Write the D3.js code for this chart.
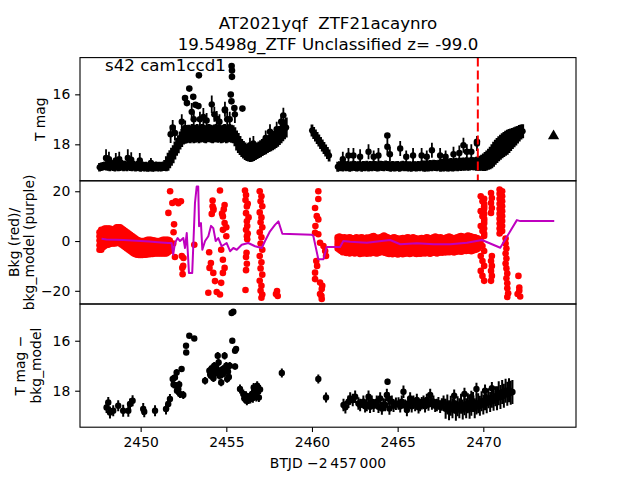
<!DOCTYPE html>
<html><head><meta charset="utf-8">
<script src="https://cdn.jsdelivr.net/npm/d3@7"></script>
<style>body{margin:0;background:#fff}</style>
</head><body>
<svg id="c" width="640" height="480" xmlns="http://www.w3.org/2000/svg"></svg>
<script>
// ---------------- DATA ----------------
const titleLines = ["AT2021yqf  ZTF21acaynro", "19.5498g_ZTF Unclassified z= -99.0"];
const sectorLabel = "s42 cam1ccd1";
const xLabel = "BTJD \u22122\u2009457\u2009000";
const xTicks = [2450, 2455, 2460, 2465, 2470];
const y1Ticks = [16, 18];
const y2Ticks = [20, 0, -20];
const y3Ticks = [16, 18];
const y1Label = ["T mag"];
const y2Label = ["Bkg (red)/", "bkg_model (purple)"];
const y3Label = ["T mag \u2212", "bkg_model"];

// TESS light curve (panel 1), time / mag / error
const bandT = [2447.6,2447.7,2447.8,2447.9,
2448.0,2448.1,2448.2,2448.3,2448.4,2448.5,2448.6,2448.7,2448.8,2448.9,
2449.0,2449.1,2449.2,2449.3,2449.4,2449.5,2449.6,2449.7,2449.8,2449.9,
2450.0,2450.1,2450.2,2450.3,2450.4,2450.5,2450.6,2450.7,2450.8,2450.9,
2451.0,2451.1,2451.2,2451.3,2451.4,2451.5,2451.6,2451.7,2451.8,2451.9,
2452.0,2452.1,2452.2,2452.3,2452.4,2452.5,2452.6,2452.7,2452.8,2452.9,
2453.0,2453.1,2453.2,2453.3,2453.4,2453.5,2453.6,2453.7,2453.8,2453.9,
2454.0,2454.1,2454.2,2454.3,2454.4,2454.5,2454.6,2454.7,2454.8,2454.9,
2455.0,2455.1,2455.2,2455.3,2455.4,2455.5,2455.6,2455.7,2455.8,2455.9,
2456.0,2456.1,2456.2,2456.3,2456.4,2456.5,2456.6,2456.7,2456.8,2456.9,
2457.0,2457.1,2457.2,2457.3,2457.4,2457.5,2457.6,2457.7,2457.8,2457.9,
2458.0,2458.1,2458.2,2458.3,2458.4,2458.5,
2460.0,2460.1,2460.2,2460.3,2460.4,2460.5,2460.6,2460.7,2460.8,2460.9,2461.0,
2461.5,2461.6,2461.7,2461.8,2461.9,
2462.0,2462.1,2462.2,2462.3,2462.4,2462.5,2462.6,2462.7,2462.8,2462.9,
2463.0,2463.1,2463.2,2463.3,2463.4,2463.5,2463.6,2463.7,2463.8,2463.9,
2464.0,2464.1,2464.2,2464.3,2464.4,2464.5,2464.6,2464.7,2464.8,2464.9,
2465.0,2465.1,2465.2,2465.3,2465.4,2465.5,2465.6,2465.7,2465.8,2465.9,
2466.0,2466.1,2466.2,2466.3,2466.4,2466.5,2466.6,2466.7,2466.8,2466.9,
2467.0,2467.1,2467.2,2467.3,2467.4,2467.5,2467.6,2467.7,2467.8,2467.9,
2468.0,2468.1,2468.2,2468.3,2468.4,2468.5,2468.6,2468.7,2468.8,2468.9,
2469.0,2469.1,2469.2,2469.3,2469.4,2469.5,2469.6,2469.7,2469.8,2469.9,
2470.0,2470.1,2470.2,2470.3,2470.4,2470.5,2470.6,2470.7,2470.8,2470.9,
2471.0,2471.1,2471.2,2471.3,2471.4,2471.5,2471.6,2471.7,2471.8,2471.9,
2472.0,2472.1,2472.2,2472.3];
const bandM = [18.92,18.9,18.88,18.86,
18.88,18.85,18.87,18.84,18.86,18.88,18.85,18.87,18.86,18.84,
18.87,18.86,18.88,18.85,18.87,18.88,18.86,18.89,18.87,18.88,
18.9,18.88,18.9,18.89,18.91,18.9,18.89,18.91,18.9,18.88,
18.9,18.89,18.9,18.88,18.85,18.78,18.7,18.6,18.5,18.4,
18.25,18.1,18.0,17.85,17.75,17.65,17.62,17.6,17.58,17.6,
17.55,17.6,17.58,17.55,17.6,17.57,17.55,17.58,17.6,17.56,
17.55,17.58,17.6,17.57,17.55,17.58,17.56,17.6,17.58,17.55,
17.6,17.57,17.55,17.58,17.6,17.7,17.85,17.95,18.05,18.15,
18.22,18.28,18.33,18.36,18.38,18.37,18.34,18.3,18.26,18.22,
18.18,18.13,18.09,18.05,18.0,17.96,17.92,17.88,17.83,17.78,
17.72,17.65,17.57,17.48,17.4,17.33,
17.45,17.55,17.65,17.75,17.85,17.95,18.05,18.15,18.25,18.35,18.45,
18.9,18.88,18.87,18.89,18.86,
18.88,18.87,18.9,18.88,18.86,18.87,18.89,18.88,18.86,18.9,
18.87,18.88,18.86,18.89,18.87,18.88,18.86,18.87,18.89,18.88,
18.86,18.87,18.88,18.85,18.87,18.88,18.9,18.87,18.89,18.88,
18.87,18.9,18.88,18.86,18.88,18.87,18.89,18.88,18.9,18.87,
18.88,18.89,18.87,18.88,18.86,18.87,18.88,18.86,18.87,18.85,
18.86,18.84,18.85,18.86,18.84,18.85,18.83,18.84,18.82,18.84,
18.83,18.81,18.83,18.82,18.8,18.82,18.8,18.81,18.79,18.8,
18.78,18.8,18.79,18.77,18.78,18.78,18.78,18.77,18.76,18.74,
18.72,18.69,18.65,18.6,18.55,18.48,18.4,18.32,18.25,18.18,
18.12,18.06,18.01,17.96,17.92,17.87,17.82,17.77,17.72,17.67,
17.62,17.56,17.51,17.48];
const bandE = [.17,.17,.17,.17,
.17,.21,.21,.21,.21,.21,.21,.21,.21,.21,
.21,.2,.2,.2,.2,.2,.2,.2,.2,.2,
.2,.19,.19,.19,.19,.19,.19,.19,.19,.19,
.19,.19,.19,.19,.22,.3,.36,.36,.36,.36,
.36,.36,.36,.36,.36,.36,.36,.36,.36,.36,
.36,.36,.36,.36,.36,.36,.36,.36,.36,.36,
.36,.36,.36,.36,.36,.36,.36,.36,.36,.36,
.36,.36,.36,.36,.36,.38,.4,.4,.38,.36,
.35,.35,.34,.33,.33,.33,.33,.33,.33,.33,
.34,.34,.34,.35,.35,.35,.36,.36,.37,.37,
.38,.38,.39,.4,.4,.4,
.24,.24,.24,.24,.24,.24,.24,.24,.24,.24,.24,
.2,.2,.2,.2,.2,
.2,.2,.2,.2,.2,.2,.2,.2,.2,.2,
.2,.2,.2,.2,.2,.2,.2,.2,.2,.2,
.2,.2,.2,.2,.2,.2,.2,.2,.2,.2,
.2,.2,.2,.2,.2,.2,.2,.2,.2,.2,
.2,.2,.2,.2,.2,.22,.22,.22,.22,.22,
.22,.22,.22,.22,.22,.25,.25,.25,.25,.25,
.26,.26,.26,.26,.26,.26,.26,.26,.26,.26,
.26,.26,.26,.26,.26,.26,.28,.3,.3,.32,
.35,.38,.4,.42,.45,.48,.5,.5,.5,.5,
.5,.5,.5,.5,.5,.48,.45,.42,.4,.38,
.35,.33,.3,.28];

// brighter individual points with error bars (panel 1): [time, mag, err]
const spikes = [
[2447.98,18.55,.35],[2448.15,18.6,.3],[2448.55,18.65,.3],[2448.75,18.6,.3],[2449.25,18.55,.35],[2449.45,18.62,.3],[2449.95,18.65,.3],[2450.6,18.75,.2],
[2451.75,17.6,.35],[2451.87,17.33,.3],[2452.0,17.55,.3],[2452.4,17.1,.3],[2452.6,17.35,.3],[2452.98,16.7,.35],[2453.1,17.0,.3],[2453.46,17.0,.3],
[2453.66,16.9,.35],[2453.85,17.05,.3],[2454.15,16.4,.35],[2454.3,16.8,.3],[2454.44,16.97,.3],[2454.6,17.1,.3],[2454.92,16.6,.3],[2455.05,17.0,.3],
[2455.2,17.0,.3],[2455.5,16.8,.35],
[2456.38,18.04,.3],[2456.58,17.97,.3],[2457.3,17.75,.3],[2457.55,17.5,.3],[2457.94,17.4,.3],[2458.2,17.1,.3],[2458.33,16.84,.3],
[2461.8,18.6,.3],[2462.13,18.45,.3],[2462.42,18.45,.3],[2462.81,18.5,.3],[2463.3,18.3,.3],[2463.6,18.5,.25],[2463.88,18.45,.3],[2464.4,18.1,.35],
[2464.55,18.4,.3],[2465.15,18.17,.3],[2465.5,18.5,.25],[2465.9,18.45,.3],[2466.4,18.45,.3],[2466.7,18.5,.25],[2467.0,18.24,.3],[2467.48,18.45,.3],
[2467.8,18.5,.25],[2468.26,18.4,.3],[2468.6,18.35,.3],[2468.84,18.04,.3],[2469.04,18.3,.3],[2469.3,18.3,.3],[2469.63,17.97,.3]];

// isolated bright outliers (panel 1): [time, mag]
const outliers = [[2452.59,16.15],[2452.7,16.35],[2452.84,15.77],[2453.07,16.1],[2453.2,16.42],[2453.37,16.47],[2453.4,15.24],
[2455.31,14.87],[2455.33,15.05],[2455.33,15.3],[2455.26,16.01],[2455.3,16.28],[2455.47,16.55],[2455.94,16.57],[2454.92,16.64],
[2464.4,17.65],[2469.63,17.9]];

const ztfPoint = [[2474.1, 17.67]];   // triangle marker
const discoveryT = [2469.68];        // red dashed line

// Background (panel 2): time, five samples per time across the scatter cloud
const bkgT = [2447.6,2447.7,2447.8,2447.9,
2448.0,2448.1,2448.2,2448.3,2448.4,2448.5,2448.6,2448.7,2448.8,2448.9,
2449.0,2449.1,2449.2,2449.3,2449.4,2449.5,2449.6,2449.7,2449.8,2449.9,
2450.0,2450.1,2450.2,2450.3,2450.4,2450.5,2450.6,2450.7,2450.8,2450.9,
2451.0,2451.1,2451.2,2451.3,2451.4,2451.5,2451.6,2451.7,
2461.5,2461.6,2461.7,2461.8,2461.9,2462.0,2462.1,2462.2,2462.3,2462.4,
2462.5,2462.6,2462.7,2462.8,2462.9,2463.0,2463.1,2463.2,2463.3,2463.4,
2463.5,2463.6,2463.7,2463.8,2463.9,2464.0,2464.1,2464.2,2464.3,2464.4,
2464.5,2464.6,2464.7,2464.8,2464.9,2465.0,2465.1,2465.2,2465.3,2465.4,
2465.5,2465.6,2465.7,2465.8,2465.9,2466.0,2466.1,2466.2,2466.3,2466.4,
2466.5,2466.6,2466.7,2466.8,2466.9,2467.0,2467.1,2467.2,2467.3,2467.4,
2467.5,2467.6,2467.7,2467.8,2467.9,2468.0,2468.1,2468.2,2468.3,2468.4,
2468.5,2468.6,2468.7,2468.8,2468.9,2469.0,2469.1,2469.2,2469.3,2469.4,
2469.5,2469.6,2469.7];
const bkgHi = [3.5,4.5,4.5,5,
5,5,5,4.5,4.5,5,5.5,5.5,5.5,5,
4.5,4,3.5,3,2.5,2,1.5,1,0.5,0.2,
0,0,0,0.2,0.5,0.5,0.5,0.3,0.2,0,
0,0,0.2,0.5,0.5,0.5,0.5,0.2,
1.5,1.8,1.5,1.2,1.5,1.0,1.3,1.5,1.2,1.0,
1.2,1.5,1.0,1.3,1.5,1.2,1.0,1.4,1.2,1.5,
1.8,2.0,1.5,1.3,1.2,1.5,1.8,2.2,1.8,1.5,
1.2,1.0,1.3,1.5,1.2,1.0,0.8,1.0,1.2,1.0,
1.3,1.5,1.2,1.0,1.5,1.2,1.0,0.8,1.0,1.2,
1.0,1.2,1.5,1.3,1.0,1.2,1.5,1.8,1.5,1.2,
1.5,1.2,1.0,1.3,1.5,1.8,1.5,1.2,1.0,1.3,
1.5,1.8,2.0,1.8,1.5,1.8,2.2,2.0,1.8,1.5,
1.5,1.2,1.0];
const bkgUp = [1.9,2.4,3.0,3.1,
3.5,3.2,3.6,3.0,3.3,3.6,3.9,3.8,3.9,3.3,
2.9,2.3,1.9,1.4,0.8,0.4,-0.2,-0.6,-0.9,-1.3,
-1.2,-1.5,-1.3,-1.2,-0.9,-1.0,-0.9,-1.2,-1.0,-1.3,
-1.2,-1.3,-1.0,-0.8,-1.0,-0.9,-0.7,-0.8,
0.5,0.3,0.2,-0.1,0.0,-0.5,-0.1,-0.2,-0.2,-0.5,
-0.3,0.1,-0.5,-0.4,-0.1,-0.3,-0.5,-0.2,-0.3,-0.1,
0.2,0.4,-0.1,-0.3,-0.3,0.0,0.3,0.5,0.1,-0.2,
-0.4,-0.5,-0.4,-0.1,-0.4,-0.6,-0.7,-0.5,-0.4,-0.6,
-0.2,-0.1,-0.4,-0.5,-0.1,-0.4,-0.6,-0.6,-0.5,-0.3,
-0.5,-0.3,-0.1,-0.2,-0.5,-0.3,0.0,0.2,-0.1,-0.3,
0.0,-0.2,-0.4,-0.2,0.1,0.2,0.1,-0.2,-0.4,-0.1,
0.1,0.3,0.5,0.4,0.2,0.4,0.7,0.5,0.3,0.2,
0.2,0.0,0.0];
const bkgMid = [0.2,0.6,1.2,1.4,
1.8,1.6,1.9,1.6,1.9,2.0,2.4,2.2,2.2,1.7,
1.2,0.8,0.3,-0.3,-0.8,-1.2,-1.8,-2.2,-2.4,-2.8,
-2.6,-2.9,-2.6,-2.7,-2.3,-2.5,-2.3,-2.6,-2.3,-2.6,
-2.4,-2.6,-2.3,-2.2,-2.4,-2.3,-2.0,-1.9,
-0.8,-0.9,-1.2,-1.6,-1.4,-1.9,-1.6,-1.8,-1.7,-1.9,
-1.9,-1.5,-1.9,-2.0,-1.7,-1.9,-1.8,-1.8,-1.8,-1.7,
-1.5,-1.2,-1.7,-1.9,-1.8,-1.5,-1.2,-1.2,-1.5,-1.8,
-2.0,-2.0,-2.0,-1.7,-2.0,-2.2,-2.2,-2.0,-2.1,-2.1,
-1.8,-1.6,-2.0,-2.0,-1.6,-1.9,-2.1,-2.0,-2.0,-1.9,
-1.9,-1.9,-1.6,-1.8,-2.0,-1.8,-1.5,-1.5,-1.7,-1.7,
-1.5,-1.7,-1.7,-1.6,-1.4,-1.3,-1.3,-1.6,-1.8,-1.5,
-1.3,-1.1,-1.1,-1.1,-1.1,-1.1,-0.7,-0.9,-1.1,-1.1,
-1.0,-1.1,-1.0];
const bkgDn = [-1.7,-1.4,-0.7,-0.3,
0.2,0.0,0.4,0.3,0.5,0.5,0.8,0.7,0.6,0.1,
-0.4,-0.9,-1.4,-1.9,-2.4,-2.9,-3.4,-3.8,-4.0,-4.2,
-4.1,-4.3,-4.0,-4.1,-3.8,-3.9,-3.7,-3.9,-3.6,-3.8,
-3.7,-3.8,-3.6,-3.6,-3.7,-3.6,-3.2,-3.0,
-1.9,-2.2,-2.6,-3.1,-2.8,-3.4,-3.0,-3.4,-3.2,-3.4,
-3.5,-3.1,-3.4,-3.6,-3.3,-3.5,-3.2,-3.5,-3.3,-3.4,
-3.2,-2.9,-3.3,-3.5,-3.3,-3.0,-2.8,-2.9,-3.2,-3.4,
-3.6,-3.5,-3.7,-3.3,-3.6,-3.8,-3.7,-3.5,-3.7,-3.6,
-3.4,-3.2,-3.6,-3.5,-3.2,-3.5,-3.7,-3.5,-3.6,-3.5,
-3.4,-3.5,-3.2,-3.4,-3.6,-3.3,-3.1,-3.2,-3.4,-3.2,
-3.0,-3.2,-3.1,-3.1,-2.9,-2.9,-2.8,-3.0,-3.2,-2.9,
-2.8,-2.6,-2.7,-2.6,-2.5,-2.6,-2.2,-2.4,-2.6,-2.5,
-2.3,-2.3,-2.0];
const bkgLo = [-3.5,-3.5,-2.5,-2,
-1.5,-1.5,-1.2,-1,-1,-1,-0.8,-0.8,-1,-1.5,
-2,-2.5,-3,-3.5,-4,-4.5,-5,-5.3,-5.5,-5.6,
-5.6,-5.6,-5.5,-5.5,-5.3,-5.3,-5.2,-5.2,-5,-5,
-5,-5,-5,-5,-5,-5,-4.5,-4,
-3.0,-3.5,-4.0,-4.5,-4.2,-4.8,-4.5,-5.0,-4.6,-4.8,
-5.0,-4.6,-4.8,-5.2,-4.9,-5.0,-4.6,-5.1,-4.8,-5.0,
-4.8,-4.5,-4.9,-5.0,-4.7,-4.5,-4.3,-4.6,-4.8,-5.0,
-5.2,-5.0,-5.3,-4.9,-5.1,-5.4,-5.2,-5.0,-5.3,-5.1,
-5.0,-4.8,-5.2,-5.0,-4.7,-5.0,-5.2,-4.9,-5.1,-5.0,
-4.8,-5.0,-4.7,-4.9,-5.1,-4.8,-4.6,-4.8,-5.0,-4.7,
-4.5,-4.7,-4.4,-4.6,-4.3,-4.5,-4.2,-4.4,-4.6,-4.3,
-4.2,-4.0,-4.3,-4.1,-3.8,-4.0,-3.7,-3.9,-4.1,-3.8,
-3.6,-3.4,-3.0];
// scattered background points in the noisy stretches: [time, value]
const bkgScatter = [
[2451.62,11.3],[2451.72,20.0],[2451.85,15.3],[2451.95,6.7],[2451.92,3.5],[2451.9,-1.0],[2452.0,-6.4],[2452.05,16.0],[2452.2,15.2],[2452.35,16.0],
[2452.4,-6.0],[2452.43,-10.8],[2452.45,-13.3],[2452.48,-10.0],[2452.5,-6.8],[2453.13,-1.5],
[2453.95,-20.8],[2454.0,-4.5],[2454.1,-8.8],[2454.02,-10.8],[2454.2,16.3],[2454.24,13.2],[2454.15,10.9],[2454.24,-12.8],[2454.34,-16.1],[2454.44,-20.5],
[2454.63,-21.5],[2454.2,14.0],[2454.25,12.5],
[2454.63,20.3],[2454.8,9.9],[2454.9,7.2],[2454.8,4.5],[2455.0,1.9],[2454.7,-3.5],[2454.8,-7.5],[2454.9,-10.8],[2454.8,-12.8],[2454.7,-16.8],
[2454.85,12.7],[2454.75,11.0],[2454.9,14.5],[2455.0,5.5],
[2456.09,20.3],[2456.15,18.5],[2456.12,16.5],[2456.2,13.9],[2456.15,11.2],[2456.2,7.9],[2456.15,4.5],[2456.2,1.9],[2456.15,-6.4],[2456.2,-9.1],
[2456.15,-11.7],[2456.12,-19.7],[2456.25,15.0],[2456.3,9.5],[2456.22,6.0],[2456.25,3.0],[2456.18,-4.7],[2456.22,0.7],
[2456.95,20.0],[2457.05,18.0],[2457.0,16.0],[2457.1,14.0],[2456.95,11.5],[2457.05,9.5],[2457.0,7.5],[2457.1,5.5],[2456.95,3.5],[2457.05,1.5],
[2457.0,-1.0],[2457.1,-3.5],[2456.95,-6.0],[2457.05,-8.5],[2457.0,-11.0],[2457.1,-13.5],[2456.95,-16.0],[2457.05,-18.0],[2457.0,-20.0],[2457.1,-21.5],
[2457.05,-22.8],[2457.96,-20.1],[2458.0,-22.1],[2457.9,-21.3],
[2460.37,20.0],[2460.37,16.9],[2460.18,13.3],[2460.28,10.0],[2460.37,8.7],[2460.2,6.0],[2460.18,3.3],[2460.37,2.7],[2460.47,-0.7],[2460.67,-2.0],
[2460.77,-4.0],[2460.82,-6.0],[2460.25,-8.0],[2460.3,-10.0],[2460.18,-12.7],[2460.18,-15.3],[2460.47,-16.7],[2460.6,-18.0],[2460.57,-19.3],[2460.47,-21.3],
[2460.55,-22.0],[2460.57,-23.3],
[2469.85,18],[2469.95,16],[2470.05,14],[2469.85,12],[2469.95,10],[2470.05,8],[2469.85,6],[2469.95,4],[2470.05,2],[2469.85,0],
[2469.95,-2],[2470.05,-4],[2469.85,-6],[2469.95,-8],[2470.05,-10],[2469.85,-12],[2469.95,-14],[2470.05,-16],
[2470.05,17],[2470.05,15],[2470.05,13],[2470.05,11],[2470.05,9],[2470.05,7],[2470.05,5],[2470.05,3],
[2470.45,19.3],[2470.5,17.3],[2470.45,15.3],[2470.5,13.3],[2470.45,11.3],[2470.5,-6],[2470.45,-8],[2470.5,-10],[2470.45,-12],[2470.5,-14],[2470.45,-16],
[2470.95,20.7],[2470.95,19],[2470.95,17],[2470.95,15],[2470.95,13],[2470.95,11],[2470.95,9],[2470.95,7],[2470.95,5],[2470.95,3],
[2471.1,20],[2471.1,18],[2471.1,16],[2471.1,14],[2471.1,12],[2471.1,10],[2471.1,8],[2471.1,6],[2471.1,4],
[2471.3,1],[2471.3,-1],[2471.35,-3],[2471.3,-5],[2471.35,-7],[2471.3,-9],[2471.35,-11],[2471.4,-13],[2471.35,-15],[2471.4,-17],
[2471.4,-19],[2471.45,-21],[2471.4,-22.5],
[2472.05,-14],[2472.1,-18.7],[2472.0,-21.3],[2472.15,-22.3],[2472.1,-20]];

// background model (purple line): [time, value]
const bkgModel = [[2447.72,0.9],[2448.0,0.6],[2448.5,0.5],[2449.0,0.4],[2449.5,0.2],[2450.0,0.0],[2450.5,-0.2],[2451.0,-0.5],[2451.6,-0.8],
[2451.81,-0.8],[2451.9,-5.5],[2452.0,-0.8],[2452.16,1.2],[2452.3,0],[2452.49,1.2],[2452.59,-2.8],[2452.69,3.2],[2452.82,-12.8],[2453.01,-12.8],
[2453.17,15.2],[2453.27,21.9],[2453.36,21.9],[2453.41,5.9],[2453.52,7.2],[2453.6,-3.5],[2453.76,0],[2453.95,1.9],[2454.11,6.1],[2454.24,5.2],
[2454.38,0],[2454.53,1.2],[2454.73,-2.1],[2455.02,-0.8],[2455.22,-4.1],[2455.41,-2.8],[2455.61,-3.5],[2455.9,-1.5],[2456.28,-0.8],[2456.68,-2.1],
[2457.07,-2.8],[2457.26,0],[2457.55,3.9],[2457.84,6.5],[2458.04,7.9],[2458.27,2.9],[2459.99,2.5],[2460.08,2.0],[2460.37,-7.3],[2460.67,-7.3],
[2460.86,-2.4],[2461.64,-2.4],[2461.83,0],[2462.23,-0.3],[2463.2,-0.7],[2464.56,0.4],[2465.15,-1.3],[2466.12,-0.9],[2467.09,-1.3],[2468.07,-1.3],
[2469.04,-0.7],[2469.92,0.4],[2470.99,-2.7],[2471.96,8.4],[2472.16,8.0],[2474.14,8.0]];

// background-subtracted light curve (panel 3): [time, mag, err]
const diffLC = [
[2448.01,18.67,.22],[2448.11,18.47,.22],[2448.21,18.87,.24],[2448.4,18.8,.22],[2448.69,18.6,.22],[2448.98,18.8,.24],[2449.28,18.8,.24],[2449.38,18.53,.22],
[2449.53,18.4,.22],[2450.15,18.73,.24],[2450.21,18.84,.22],[2450.84,18.8,.22],[2451.48,18.73,.22],[2451.61,18.53,.22],[2451.71,18.33,.2],
[2451.87,17.53,.15],[2451.92,17.75,.15],[2452.0,17.47,.14],[2452.06,17.8,.15],[2452.1,17.27,.14],[2452.12,18.0,.16],[2452.2,17.93,.15],[2452.25,17.75,.15],
[2452.3,18.13,.16],[2452.39,17.13,.12],[2452.49,18.17,.16],[2452.65,16.2,.08],[2452.66,16.47,.08],[2452.84,15.8,.06],[2453.13,15.91,.06],
[2453.76,17.6,.15],[2454.01,17.2,.15],[2454.06,17.35,.15],[2454.1,17.4,.15],[2454.15,17.1,.15],[2454.2,17.27,.15],[2454.25,17.5,.15],[2454.3,17.0,.15],
[2454.35,17.3,.15],[2454.4,17.07,.15],[2454.45,17.2,.15],[2454.5,16.6,.15],[2454.55,16.87,.15],[2454.6,17.4,.15],[2454.65,17.2,.15],[2454.7,17.67,.15],
[2454.75,17.35,.15],[2454.8,17.13,.15],[2454.85,17.3,.15],[2454.9,16.6,.15],[2454.95,17.2,.15],[2455.0,17.0,.15],[2455.05,17.53,.15],[2455.1,17.24,.15],
[2455.15,17.45,.15],[2455.2,17.0,.15],
[2455.31,14.89,.05],[2455.41,14.84,.05],[2455.35,16.0,.07],[2455.51,16.4,.08],[2455.57,16.33,.08],[2455.51,17.03,.12],
[2455.8,17.93,.18],[2455.99,18.13,.18],[2456.05,18.3,.18],[2456.1,18.33,.18],[2456.15,18.2,.18],[2456.2,18.4,.18],[2456.25,18.27,.18],[2456.3,18.35,.18],
[2456.4,18.33,.18],[2456.45,18.2,.18],[2456.5,18.13,.18],[2456.55,18.3,.18],[2456.6,17.87,.18],[2456.65,18.1,.18],[2456.7,18.07,.18],[2456.75,18.25,.18],
[2456.8,17.8,.18],[2456.85,18.0,.18],[2456.9,18.27,.18],[2456.97,17.95,.18],
[2458.24,17.29,.18],[2460.37,17.53,.18],[2460.82,18.27,.2],
[2461.84,18.57,.25],[2461.95,18.66,.25],[2462.13,18.44,.25],[2462.23,18.31,.25],[2462.38,18.37,.25],[2462.52,18.24,.25],[2462.71,18.51,.25],[2462.81,18.57,.25],
[2463.0,18.44,.25],[2463.1,18.62,.25],[2463.2,18.57,.25],[2463.3,18.24,.25],[2463.39,18.64,.25],[2463.49,18.44,.25],[2463.6,18.6,.25],[2463.78,18.44,.25],
[2463.88,18.64,.25],[2463.98,18.31,.25],[2464.08,18.71,.25],[2464.18,18.55,.25],[2464.27,18.57,.25],[2464.37,18.17,.25],[2464.41,17.64,.12],[2464.46,18.31,.25],
[2464.52,18.71,.25],[2464.66,18.44,.25],[2464.76,18.6,.25],[2464.9,18.52,.25],[2465.05,18.51,.25],[2465.15,18.62,.25],[2465.24,18.44,.25],[2465.34,18.04,.25],
[2465.44,18.6,.25],[2465.54,18.77,.25],[2465.63,18.5,.25],[2465.73,18.31,.25],[2465.82,18.62,.25],[2465.92,18.44,.25],[2466.02,18.57,.25],[2466.12,18.37,.25],
[2466.22,18.66,.25],[2466.31,18.57,.25],[2466.41,18.5,.25],[2466.51,18.44,.25],[2466.6,18.62,.25],[2466.7,18.37,.25],[2466.8,18.55,.25],[2466.9,18.17,.25],
[2467.0,18.51,.25],[2467.09,18.44,.25],[2467.19,18.6,.25],[2467.29,18.57,.25],[2467.38,18.5,.25],[2467.48,18.64,.25],[2467.58,18.55,.25],[2467.68,18.44,.25],
[2467.8,18.72,.4],[2467.9,18.55,.4],[2468.0,18.78,.4],[2468.1,18.6,.4],[2468.2,18.7,.4],[2468.3,18.5,.4],[2468.4,18.8,.4],[2468.5,18.62,.4],
[2468.6,18.7,.4],[2468.7,18.52,.4],[2468.8,18.75,.4],[2468.9,18.58,.4],[2469.0,18.7,.4],[2469.1,18.5,.4],[2469.2,18.72,.4],[2469.3,18.6,.4],
[2469.4,18.45,.4],[2469.5,18.7,.4],[2469.6,18.55,.4],[2469.7,18.5,.4],[2469.8,18.6,.4],[2469.9,18.42,.4],[2470.0,18.55,.4],[2470.1,18.38,.4],
[2470.2,18.5,.4],[2470.3,18.3,.4],[2470.4,18.45,.4],[2470.5,18.28,.4],[2470.6,18.4,.4],[2470.7,18.22,.4],[2470.8,18.3,.48],[2470.9,18.1,.48],
[2471.0,18.25,.48],[2471.1,18.05,.48],[2471.2,18.2,.48],[2471.3,18.0,.48],[2471.4,18.12,.48],[2471.5,17.98,.48],[2471.6,18.08,.48],[2471.7,18.05,.48],
[2468.3,18.2,.25],[2468.9,18.13,.25],[2469.3,18.25,.25],[2469.6,17.93,.25],[2470.1,18.0,.25],[2470.5,17.9,.25]];

// ---------------- DRAWING ----------------
const FONT = "DejaVu Sans";
const L = 80, R = 576, T = 57.6, B = 427.2, PH = (B - T) / 3;
const svg = d3.select("#c");
svg.append("rect").attr("width", 640).attr("height", 480).attr("fill", "#fff");

const x = d3.scaleLinear().domain([2446.46, 2475.41]).range([L, R]);
const y1 = d3.scaleLinear().domain([14.53, 19.46]).range([T, T + PH]);
const y2 = d3.scaleLinear().domain([24.2, -25.3]).range([T + PH, T + 2 * PH]);
const y3 = d3.scaleLinear().domain([14.53, 19.46]).range([T + 2 * PH, B]);

const defs = svg.append("defs");
[0, 1, 2].forEach(i => {
  defs.append("clipPath").attr("id", "clip" + i).append("rect")
    .attr("x", L).attr("y", T + i * PH).attr("width", R - L).attr("height", PH);
});

function errorbars(g, data, ys, lw, r) {
  g.append("g").selectAll("line").data(data).join("line")
    .attr("x1", d => x(d[0])).attr("x2", d => x(d[0]))
    .attr("y1", d => ys(d[1] - d[2])).attr("y2", d => ys(d[1] + d[2]))
    .attr("stroke", "#000").attr("stroke-width", lw);
  g.append("g").selectAll("circle").data(data).join("circle")
    .attr("cx", d => x(d[0])).attr("cy", d => ys(d[1])).attr("r", r).attr("fill", "#000");
}

// Panel 1
const g1 = svg.append("g").attr("clip-path", "url(#clip0)");
const band = bandT.map((t, i) => [t, bandM[i], bandE[i]]);
errorbars(g1, band, y1, 2.8, 3.0);
errorbars(g1, spikes, y1, 1.8, 3.2);
errorbars(g1, outliers.map(d => [d[0], d[1], 0.04]), y1, 1.5, 3.3);
g1.selectAll("path.tri").data(ztfPoint).join("path")
  .attr("transform", d => `translate(${x(d[0])},${y1(d[1])})`)
  .attr("d", d3.symbol(d3.symbolTriangle, 55)).attr("fill", "#000");
g1.selectAll("line.disc").data(discoveryT).join("line")
  .attr("x1", d => x(d)).attr("x2", d => x(d)).attr("y1", T).attr("y2", T + PH)
  .attr("stroke", "#ff0000").attr("stroke-width", 2).attr("stroke-dasharray", "9,4");

// Panel 2
const g2 = svg.append("g").attr("clip-path", "url(#clip1)");
const bkgPts = [];
bkgT.forEach((t, i) => { bkgPts.push([t, bkgHi[i]], [t, bkgUp[i]], [t, bkgMid[i]], [t, bkgDn[i]], [t, bkgLo[i]]); });
bkgScatter.forEach(d => bkgPts.push(d));
g2.append("g").selectAll("circle").data(bkgPts).join("circle")
  .attr("cx", d => x(d[0])).attr("cy", d => y2(d[1])).attr("r", 3.3).attr("fill", "#ff0000");
g2.append("path").datum(bkgModel)
  .attr("d", d3.line().x(d => x(d[0])).y(d => y2(d[1])))
  .attr("fill", "none").attr("stroke", "#bf00bf").attr("stroke-width", 2).attr("stroke-linejoin", "round");

// Panel 3
const g3 = svg.append("g").attr("clip-path", "url(#clip2)");
errorbars(g3, diffLC, y3, 2.0, 3.2);

// frames
[0, 1, 2].forEach(i => {
  svg.append("rect").attr("x", L).attr("y", T + i * PH).attr("width", R - L).attr("height", PH)
    .attr("fill", "none").attr("stroke", "#000").attr("stroke-width", 1.1);
});

function styleAxis(g) {
  g.attr("font-family", FONT).attr("font-size", 13.9);
  g.select(".domain").remove();
  g.selectAll("line").attr("stroke", "#000").attr("stroke-width", 1.1);
  g.selectAll("text").attr("fill", "#000");
}
const fmt = d3.format("d");
styleAxis(svg.append("g").attr("transform", `translate(${L},0)`)
  .call(d3.axisLeft(y1).tickValues(y1Ticks).tickSize(4.86).tickPadding(4.86).tickFormat(fmt)));
styleAxis(svg.append("g").attr("transform", `translate(${L},0)`)
  .call(d3.axisLeft(y2).tickValues(y2Ticks).tickSize(4.86).tickPadding(4.86).tickFormat(fmt)));
styleAxis(svg.append("g").attr("transform", `translate(${L},0)`)
  .call(d3.axisLeft(y3).tickValues(y3Ticks).tickSize(4.86).tickPadding(4.86).tickFormat(fmt)));
styleAxis(svg.append("g").attr("transform", `translate(0,${B})`)
  .call(d3.axisBottom(x).tickValues(xTicks).tickSize(4.86).tickPadding(4.86).tickFormat(fmt)));

// texts
titleLines.forEach((s, i) => {
  svg.append("text").attr("x", 328).attr("y", 28.5 + i * 21).attr("text-anchor", "middle")
    .attr("font-family", FONT).attr("font-size", 16.67).style("white-space", "pre").attr("fill", "#000").text(s);
});
svg.append("text").attr("x", 105).attr("y", 70.5).attr("font-family", FONT).attr("font-size", 16.67)
  .attr("fill", "#000").text(sectorLabel);
svg.append("text").attr("x", 328).attr("y", 468).attr("text-anchor", "middle")
  .attr("font-family", FONT).attr("font-size", 13.9).attr("fill", "#000").text(xLabel);

function yLabel(lines, xs, yc) {
  lines.forEach((s, i) => {
    svg.append("text").attr("transform", `translate(${xs[i]},${yc}) rotate(-90)`)
      .attr("text-anchor", "middle").attr("dominant-baseline", "central")
      .attr("font-family", FONT).attr("font-size", 13.9).attr("fill", "#000").text(s);
  });
}
yLabel(y1Label, [40], T + PH / 2);
yLabel(y2Label, [14, 29], T + 1.5 * PH);
yLabel(y3Label, [20, 36], T + 2.5 * PH);
</script>
</body></html>
